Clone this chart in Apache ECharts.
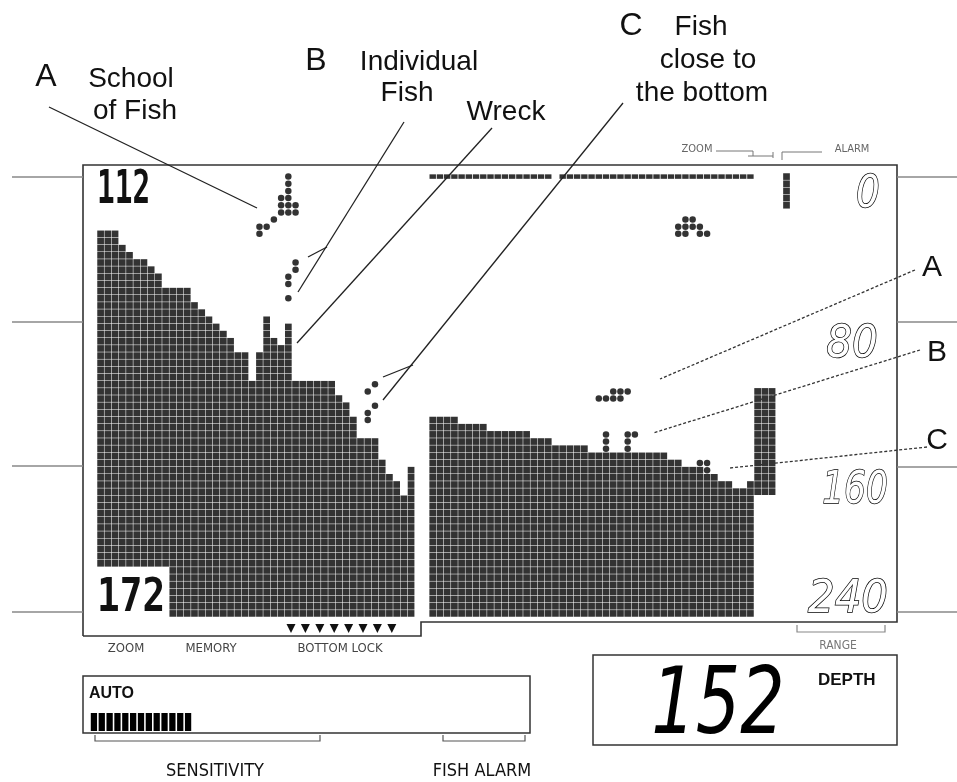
<!DOCTYPE html>
<html><head><meta charset="utf-8">
<script src="https://cdn.jsdelivr.net/npm/echarts@6/dist/echarts.min.js"></script>
<style>html,body{margin:0;padding:0;background:#fff}#c{width:957px;height:782px}</style>
</head><body><div id="c"></div>
<script>
// ---------------- data ----------------
const ROW_FT = 4;          // one LCD dot row = 4 ft
const MAX_DEPTH = 248;     // 62 dot rows on the screen
const depthLabels = ['0', '80', '160', '240'];
const depthReadout = '152';
const upperReadout = '112';
const lowerReadout = '172';

// bottom (top of the echo) per dot column, left "memory" half
const leftStartCol = 0;
const bottomLeft = [32,32,32,40,44,48,48,52,56,64,64,64,64,72,76,80,84,88,92,100,100,116,
                    100,80,92,96,84,116,116,116,116,116,116,124,128,136,148,148,148,160,168,172,180,164];
// bottom per dot column, right "live" half
const rightStartCol = 46;
const bottomRight = [136,136,136,136,140,140,140,140,144,144,144,144,144,144,148,148,148,
                     152,152,152,152,152,156,156,156,156,156,156,156,156,156,156,156,
                     160,160,164,164,164,168,168,172,172,176,176,172];
const memoryBoxCols = 10;      // columns hidden by the "172" readout
const memoryBoxDepth = 220;    // depth where that readout starts

// fish echoes [column, depth ft]
const schoolLeft = [[26,2],[26,6],[26,10],[26,14],[26,18],[26,22],[25,14],[25,18],[25,22],
                    [27,18],[27,22],[24,26],[23,30],[22,30],[22,34]];
const fishLeftB  = [[27,50],[27,54],[26,58],[26,62],[26,70]];
const fishLeftC  = [[38,118],[37,122],[38,130],[37,134],[37,138]];
const schoolRight = [[81,26],[82,26],[80,30],[81,30],[82,30],[83,30],[80,34],[81,34],[83,34],[84,34]];
const fishRightA = [[69,126],[70,126],[71,122],[71,126],[72,122],[72,126],[73,122]];
const fishRightB = [[70,146],[70,150],[70,154],[73,146],[73,150],[73,154],[74,146]];
const fishRightC = [[83,162],[84,162],[84,166]];

// surface line, zoom marker, fish-alarm band
const surfaceRanges = [[46,62],[64,90]];
const zoomMarker = {col: 95, from: 0, to: 20};
const alarmBand = {cols: [91,92,93], from: 120, to: 180};

// sensitivity segments lit
const sensitivitySegments = [1,1,1,1,1,1,1,1,1,1,1,1,1];

// ---------------- build cells ----------------
const half = ROW_FT / 2;
const bottomCells = [];
function addBlock(startCol, bottoms, hasBox) {
  bottoms.forEach((b, i) => {
    const c = startCol + i;
    for (let d = b; d < MAX_DEPTH; d += ROW_FT) {
      if (hasBox && i < memoryBoxCols && d >= memoryBoxDepth) continue;
      bottomCells.push([c, d + half]);
    }
  });
}
addBlock(leftStartCol, bottomLeft, true);
addBlock(rightStartCol, bottomRight, false);

const surfaceCells = [];
surfaceRanges.forEach(([a, b]) => { for (let c = a; c <= b; c++) surfaceCells.push([c, half]); });
const markerCells = [];
for (let d = zoomMarker.from; d < zoomMarker.to; d += ROW_FT) markerCells.push([zoomMarker.col, d + half]);
alarmBand.cols.forEach(c => { for (let d = alarmBand.from; d < alarmBand.to; d += ROW_FT) markerCells.push([c, d + half]); });

const fishCells = [].concat(schoolLeft, fishLeftB, fishLeftC, schoolRight, fishRightA, fishRightB, fishRightC);

// ---------------- chart ----------------
const GRID_LEFT = 97, GRID_TOP = 173, NCOLS = 110, PITCH_X = 7.22, GRID_H = 444;
const PITCH_Y = GRID_H / (MAX_DEPTH / ROW_FT);
const chart = echarts.init(document.getElementById('c'), null, {renderer: 'canvas'});

const sans = '"Liberation Sans", Arial, sans-serif';
const narrow = '"Liberation Sans Narrow", "DejaVu Sans Condensed", sans-serif';
function txt(text, x, y, size, opts) {
  opts = opts || {};
  return {type: 'text', x: x, y: y, scaleX: opts.sx || 1, z: 10,
    style: {text: text, font: (opts.style || '') + ' ' + (opts.weight || 'normal') + ' ' + size + 'px ' + (opts.family || sans),
      fill: opts.fill || '#111', stroke: opts.stroke, lineWidth: opts.lw || 0,
      textAlign: opts.align || 'center', textVerticalAlign: 'middle'}};
}
function line(pts, opts) {
  opts = opts || {};
  return {type: 'polyline', z: 5, shape: {points: pts},
    style: {stroke: opts.color || '#222', lineWidth: opts.lw || 1.3, fill: null, lineDash: opts.dash || null}};
}
const g = [];
// display frame
g.push(line([[83,636],[83,165],[897,165],[897,622],[421,622],[421,636],[83,636]], {color:'#333', lw:1.6}));
[177,322,466,612].forEach(y => g.push(line([[12,y],[83,y]], {color:'#888', lw:1.5})));
[177,322,467,612].forEach(y => g.push(line([[897,y],[957,y]], {color:'#888', lw:1.5})));
// zoom / alarm bracket on top
g.push(txt('ZOOM', 697, 149, 11, {family: narrow, fill:'#666'}));
g.push(txt('ALARM', 852, 149, 11, {family: narrow, fill:'#666'}));
g.push(line([[716,151],[753,151],[753,156]], {color:'#777', lw:1}));
g.push(line([[748,156],[773,156]], {color:'#777', lw:1}));
g.push(line([[773,152],[773,158]], {color:'#777', lw:1}));
g.push(line([[782,160],[782,152],[822,152]], {color:'#777', lw:1}));
// bottom-lock triangles
for (let i = 0; i < 8; i++) {
  const cx = 291 + i * 14.4;
  g.push({type:'polygon', z:5, shape:{points:[[cx-4.5,624],[cx+4.5,624],[cx,633]]}, style:{fill:'#111'}});
}
// range bracket
g.push(line([[797,625],[797,632],[885,632],[885,625]], {color:'#888', lw:1.2}));
// labels under display
g.push(txt('ZOOM', 126, 649, 13, {family: narrow, fill:'#444'}));
g.push(txt('MEMORY', 211, 649, 13, {family: narrow, fill:'#444'}));
g.push(txt('BOTTOM LOCK', 340, 649, 13, {family: narrow, fill:'#444'}));
g.push(txt('RANGE', 838, 646, 12, {family: narrow, fill:'#777'}));
// sensitivity box
g.push({type:'rect', z:5, shape:{x:83,y:676,width:447,height:57}, style:{fill:null, stroke:'#333', lineWidth:1.5}});
g.push(txt('AUTO', 89, 694, 16, {weight:'bold', align:'left'}));
g.push(line([[95,735],[95,741],[320,741],[320,735]], {color:'#555', lw:1.2}));
g.push(line([[443,735],[443,741],[525,741],[525,735]], {color:'#555', lw:1.2}));
g.push(txt('SENSITIVITY', 215, 771, 18, {family: narrow}));
g.push(txt('FISH ALARM', 482, 771, 18, {family: narrow}));
// depth box
g.push({type:'rect', z:5, shape:{x:593,y:655,width:304,height:90}, style:{fill:null, stroke:'#333', lineWidth:1.5}});
g.push(txt('DEPTH', 818, 680, 17, {weight:'bold', align:'left'}));
g.push(txt(depthReadout, 718, 709, 92, {style:'italic', family:'"DejaVu Sans", sans-serif', sx:0.76, fill:'#000'}));
// range numbers (outlined LCD digits)
const lblPos = [[868,196,0.85],[852,346,0.92],[855,492,0.78],[848,601,0.95]];
depthLabels.forEach((t, i) => g.push(txt(t, lblPos[i][0], lblPos[i][1], 44,
  {style:'italic', family:'"DejaVu Sans", sans-serif', sx:lblPos[i][2], fill:'#fff', stroke:'#000', lw:1.5})));
// dot-matrix readouts
g.push(txt(upperReadout, 97, 191, 46, {weight:'bold', family:'"DejaVu Sans Mono", monospace', sx:0.64, align:'left', fill:'#111'}));
g.push(txt(lowerReadout, 97, 599, 46, {weight:'bold', family:'"DejaVu Sans Mono", monospace', sx:0.82, align:'left', fill:'#111'}));
// annotation texts
g.push(txt('A', 46, 77, 32));
g.push(txt('School', 131, 79, 28));
g.push(txt('of Fish', 135, 111, 28));
g.push(txt('B', 316, 61, 32));
g.push(txt('Individual', 419, 62, 28));
g.push(txt('Fish', 407, 93, 28));
g.push(txt('Wreck', 506, 112, 28));
g.push(txt('C', 631, 26, 32));
g.push(txt('Fish', 701, 27, 28));
g.push(txt('close to', 708, 60, 28));
g.push(txt('the bottom', 702, 93, 28));
g.push(txt('A', 932, 268, 30));
g.push(txt('B', 937, 353, 30));
g.push(txt('C', 937, 441, 30));
// leader lines
g.push(line([[49,107],[257,208]]));
g.push(line([[404,122],[298,292]]));
g.push(line([[327,247],[308,257]]));
g.push(line([[492,128],[297,343]]));
g.push(line([[623,103],[383,400]]));
g.push(line([[413,365],[383,377]]));
g.push(line([[915,270],[660,379]], {dash:[3,2], color:'#333', lw:1.3}));
g.push(line([[920,350],[653,433]], {dash:[3,2], color:'#333', lw:1.3}));
g.push(line([[927,447],[730,468]], {dash:[3,2], color:'#333', lw:1.3}));

const option = {
  animation: false,
  backgroundColor: '#fff',
  grid: [
    {left: GRID_LEFT, top: GRID_TOP, width: NCOLS * PITCH_X, height: GRID_H},
    {left: 90, top: 713, width: 102, height: 18}
  ],
  xAxis: [
    {type: 'value', gridIndex: 0, min: -0.5, max: NCOLS - 0.5, show: false},
    {type: 'category', gridIndex: 1, data: sensitivitySegments.map((v, i) => i), show: false}
  ],
  yAxis: [
    {type: 'value', gridIndex: 0, min: 0, max: MAX_DEPTH, inverse: true, show: false},
    {type: 'value', gridIndex: 1, min: 0, max: 1, show: false}
  ],
  graphic: g,
  series: [
    {type: 'scatter', name: 'bottom', data: bottomCells, symbol: 'rect',
     symbolSize: [PITCH_X - 0.5, PITCH_Y - 0.5], itemStyle: {color: '#000'}, silent: true},
    {type: 'scatter', name: 'surface', data: surfaceCells, symbol: 'rect',
     symbolSize: [PITCH_X - 0.8, 4.5], itemStyle: {color: '#000'}, silent: true},
    {type: 'scatter', name: 'markers', data: markerCells, symbol: 'rect',
     symbolSize: [PITCH_X - 0.5, PITCH_Y - 0.5], itemStyle: {color: '#000'}, silent: true},
    {type: 'scatter', name: 'fish', data: fishCells, symbol: 'circle',
     symbolSize: 6.5, itemStyle: {color: '#000'}, silent: true},
    {type: 'bar', name: 'sensitivity', xAxisIndex: 1, yAxisIndex: 1, data: sensitivitySegments,
     barCategoryGap: '20%', itemStyle: {color: '#000'}, silent: true}
  ]
};
chart.setOption(option);
</script>
</body></html>
